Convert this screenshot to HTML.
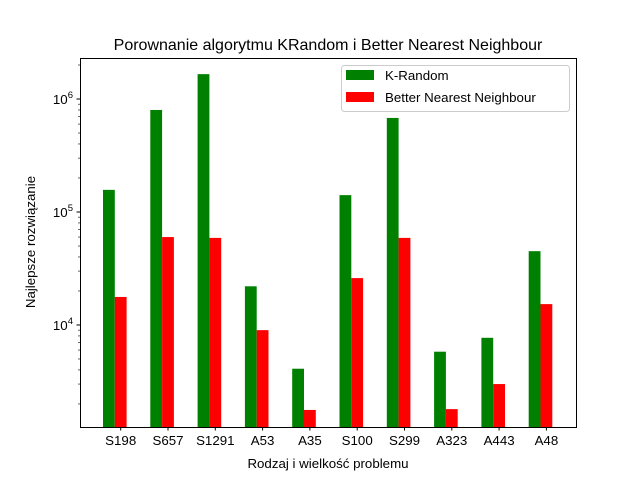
<!DOCTYPE html>
<html><head><meta charset="utf-8"><style>
body{margin:0;background:#fff}
svg{display:block;font-family:"Liberation Sans","DejaVu Sans",sans-serif}
</style></head><body>
<svg id="chart" width="640" height="480" viewBox="0 0 640 480" xmlns="http://www.w3.org/2000/svg">
<rect width="640" height="480" fill="#fff"/>
<text x="328" y="50" font-size="16" text-anchor="middle">Porownanie algorytmu KRandom i Better Nearest Neighbour</text>
<text x="328" y="468" font-size="13.3" text-anchor="middle">Rodzaj i wielkość problemu</text>
<text transform="translate(35,242) rotate(-90)" font-size="13.3" text-anchor="middle">Najlepsze rozwiązanie</text>
<g id="marks"></g>
<rect x="80.5" y="58.5" width="496" height="369" fill="none" stroke="#000" stroke-width="1"/>
<g id="legend">
<rect x="341.5" y="65.5" width="228" height="46" rx="3" fill="#fff" fill-opacity="0.8" stroke="#ccc"/>
<rect x="346" y="70" width="28" height="10" fill="#008000"/>
<text x="385" y="80" font-size="13.3">K-Random</text>
<rect x="346" y="92" width="28" height="10" fill="#ff0000"/>
<text x="385" y="102" font-size="13.3">Better Nearest Neighbour</text>
</g>
</svg>
<script>
const categories=["S198","S657","S1291","A53","A35","S100","S299","A323","A443","A48"];
const kRandom=[157000,800000,1660000,22000,4100,141000,680000,5800,7700,45000];
const bnn=[17700,60000,59000,9000,1770,26000,59000,1800,3000,15300];
const yTickExps=[4,5,6];

const NS="http://www.w3.org/2000/svg";
const g=document.getElementById('marks');
const L=80,R=576,T=58,B=427;
const yMinLog=3.097,yMaxLog=6.363;
function y(v){return B-(Math.log10(v)-yMinLog)/(yMaxLog-yMinLog)*(B-T);}
function xc(i){return 120.7+i*47.3;}
const bw=11.8;
function el(tag,attrs){const e=document.createElementNS(NS,tag);for(const k in attrs)e.setAttribute(k,attrs[k]);g.appendChild(e);return e;}
categories.forEach((c,i)=>{
  const cx=xc(i);
  let r=el('rect',{x:cx-bw*1.5,y:y(kRandom[i]),width:bw,height:B-y(kRandom[i]),fill:'#008000'});
  
  
  r=el('rect',{x:cx-bw*0.5,y:y(bnn[i]),width:bw,height:B-y(bnn[i]),fill:'#ff0000'});
  
  
  const t=el('line',{x1:cx,x2:cx,y1:B,y2:B+3.5,stroke:'#000'});
  
  
  const lb=el('text',{x:cx,y:B+18,'font-size':'13.3','text-anchor':'middle'});
  lb.textContent=c;
  
  
});
yTickExps.forEach(e=>{
  const yy=y(Math.pow(10,e));
  const t=el('line',{x1:L-3.5,x2:L,y1:yy,y2:yy,stroke:'#000'});
  
  
  const lb=el('text',{x:L-7,y:yy+5,'font-size':'13.3','text-anchor':'end'});
  lb.innerHTML='10<tspan dy="-6" font-size="9.5">'+e+'</tspan>';
  
  
});
for(let e=3;e<=6;e++)for(let m=2;m<=9;m++){
  const v=m*Math.pow(10,e);const lv=Math.log10(v);
  if(lv<yMinLog||lv>yMaxLog)continue;
  const yy=y(v);
  const t=el('line',{x1:L-2,x2:L,y1:yy,y2:yy,stroke:'#000','stroke-width':'0.6'});
  
  
}
</script>
</body></html>
